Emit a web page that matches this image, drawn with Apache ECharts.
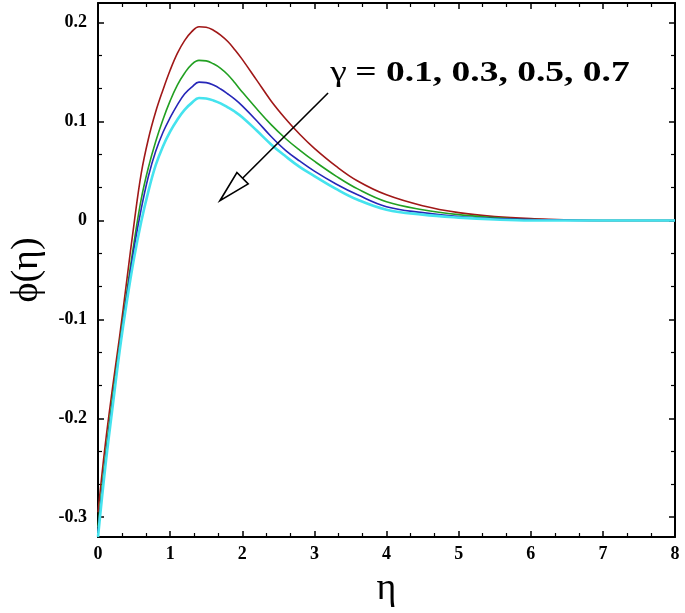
<!DOCTYPE html>
<html>
<head>
<meta charset="utf-8">
<script src="https://cdn.jsdelivr.net/npm/echarts@6/dist/echarts.min.js"></script>
<style>
html,body{margin:0;padding:0;background:#fff;}
#chart{width:685px;height:613px;}
</style>
</head>
<body>
<div id="chart"></div>
<script>
// ---- data ----
const eta = [0, 0.1, 0.2, 0.3, 0.4, 0.5, 0.6, 0.7, 0.8, 0.9, 1.0, 1.1, 1.2, 1.3, 1.4, 1.5, 1.6, 1.7, 1.8, 1.9, 2.0, 2.2, 2.4, 2.6, 2.8, 3.0, 3.3, 3.6, 4.0, 4.5, 5.0, 5.5, 6.0, 7.0, 8.0];
const phiGamma01 = [-0.295, -0.227, -0.170, -0.117, -0.060, -0.003, 0.048, 0.083, 0.110, 0.132, 0.152, 0.169, 0.182, 0.191, 0.196, 0.1955, 0.1925, 0.1875, 0.181, 0.1725, 0.163, 0.142, 0.121, 0.103, 0.087, 0.073, 0.055, 0.040, 0.026, 0.015, 0.008, 0.004, 0.002, 0.0, 0.0];
const phiGamma03 = [-0.310, -0.240, -0.180, -0.125, -0.072, -0.022, 0.022, 0.054, 0.080, 0.102, 0.121, 0.137, 0.149, 0.158, 0.162, 0.1615, 0.1585, 0.154, 0.1475, 0.139, 0.130, 0.113, 0.097, 0.083, 0.071, 0.060, 0.045, 0.032, 0.019, 0.011, 0.006, 0.003, 0.001, 0.0, 0.0];
const phiGamma05 = [-0.315, -0.245, -0.185, -0.128, -0.076, -0.028, 0.012, 0.045, 0.070, 0.089, 0.104, 0.117, 0.128, 0.135, 0.140, 0.1395, 0.137, 0.133, 0.128, 0.1225, 0.116, 0.101, 0.085, 0.071, 0.060, 0.050, 0.037, 0.026, 0.014, 0.008, 0.004, 0.002, 0.001, 0.0, 0.0];
const phiGamma07 = [-0.320, -0.250, -0.190, -0.132, -0.082, -0.038, -0.001, 0.030, 0.056, 0.075, 0.090, 0.102, 0.112, 0.119, 0.124, 0.1235, 0.1215, 0.1185, 0.1145, 0.110, 0.1045, 0.091, 0.077, 0.065, 0.054, 0.045, 0.032, 0.021, 0.011, 0.006, 0.003, 0.001, 0.0, 0.0, 0.0];
const seriesNames = ['γ = 0.1', 'γ = 0.3', 'γ = 0.5', 'γ = 0.7'];
const xTickValues = [0, 1, 2, 3, 4, 5, 6, 7, 8];
const yTickValues = [-0.3, -0.2, -0.1, 0, 0.1, 0.2];
const annotationText = ['γ', '= 0.1, 0.3, 0.5, 0.7'];
// annotation anchor and arrow in data coordinates
const annotationAt = [3.22, 0.149];
const arrowFrom = [3.19, 0.129];
const arrowTo = [1.69, 0.020];

const colors = ['#a01818', '#22a022', '#2626b8', '#45e3ee'];
const widths = [1.6, 1.6, 1.6, 2.6];
const allSeries = [phiGamma01, phiGamma03, phiGamma05, phiGamma07];

const chart = echarts.init(document.getElementById('chart'), null, {renderer: 'canvas'});
const serif = 'Liberation Serif';

function fmtY(v) {
  for (const t of yTickValues) { if (Math.abs(v - t) < 1e-6) return t === 0 ? '0' : String(t); }
  return '';
}
function fmtX(v) {
  for (const t of xTickValues) { if (Math.abs(v - t) < 1e-6) return String(t); }
  return '';
}

const axisLineStyle = {color: '#000', width: 2};
const tickStyle = {inside: true, length: 6, lineStyle: {color: '#000', width: 1.5}};
const minorStyle = {show: true, splitNumber: 3, length: 4, lineStyle: {color: '#000', width: 1.2}};
const labelStyle = {fontFamily: serif, fontWeight: 'bold', fontSize: 18, color: '#000'};

const option = {
  animation: false,
  backgroundColor: '#fff',
  grid: {left: 93, top: 3, right: 10, bottom: 76, containLabel: false},
  xAxis: [
    {type: 'value', min: 0, max: 8, interval: 1, position: 'bottom',
     axisLine: {onZero: false, lineStyle: axisLineStyle}, axisTick: tickStyle, minorTick: minorStyle,
     splitLine: {show: false}, minorSplitLine: {show: false},
     axisLabel: Object.assign({margin: 8, formatter: fmtX}, labelStyle),
     name: 'η', nameLocation: 'middle', nameGap: 33,
     nameTextStyle: {fontFamily: serif, fontSize: 38, color: '#000'}},
    {type: 'value', min: 0, max: 8, interval: 1, position: 'top',
     axisLine: {onZero: false, lineStyle: axisLineStyle}, axisTick: tickStyle, minorTick: minorStyle,
     splitLine: {show: false}, axisLabel: {show: false}}
  ],
  yAxis: [
    {type: 'value', min: -0.32, max: 0.22, splitNumber: 5, position: 'left',
     axisLine: {onZero: false, lineStyle: axisLineStyle}, axisTick: tickStyle, minorTick: minorStyle,
     splitLine: {show: false}, minorSplitLine: {show: false},
     axisLabel: Object.assign({margin: 11, formatter: fmtY}, labelStyle),
     name: 'ϕ(η)', nameLocation: 'middle', nameGap: 52, nameRotate: 90,
     nameTextStyle: {fontFamily: serif, fontSize: 38, color: '#000'}},
    {type: 'value', min: -0.32, max: 0.22, splitNumber: 5, position: 'right',
     axisLine: {onZero: false, lineStyle: axisLineStyle}, axisTick: tickStyle, minorTick: minorStyle,
     splitLine: {show: false}, axisLabel: {show: false}}
  ],
  series: allSeries.map((vals, i) => ({
    name: seriesNames[i],
    type: 'line',
    xAxisIndex: 0, yAxisIndex: 0,
    data: eta.map((x, k) => [x, vals[k]]),
    smooth: 0.4,
    showSymbol: false,
    symbol: 'none',
    lineStyle: {color: colors[i], width: widths[i]},
    itemStyle: {color: colors[i]},
    z: 2 + i
  }))
};
chart.setOption(option);

// annotation arrow and label, placed through the chart's own axes
const toPx = (p) => chart.convertToPixel({xAxisIndex: 0, yAxisIndex: 0}, p);
const S = toPx(arrowFrom), T = toPx(arrowTo), A = toPx(annotationAt);
const dx = T[0] - S[0], dy = T[1] - S[1];
const len = Math.hypot(dx, dy);
const ux = dx / len, uy = dy / len;
const headLen = 32, headHalf = 8;
const B = [T[0] - ux * headLen, T[1] - uy * headLen];
const nx = -uy, ny = ux;
chart.setOption({
  graphic: [
    {type: 'line', shape: {x1: S[0], y1: S[1], x2: B[0], y2: B[1]},
     style: {stroke: '#000', lineWidth: 1.6}, z: 100},
    {type: 'polygon', shape: {points: [T, [B[0] + nx * headHalf, B[1] + ny * headHalf], [B[0] - nx * headHalf, B[1] - ny * headHalf]]},
     style: {fill: '#fff', stroke: '#000', lineWidth: 1.6}, z: 100},
    {type: 'text', x: A[0], y: A[1], scaleX: 1.25, z: 100,
     style: {text: '{g|' + annotationText[0] + '}  {b|' + annotationText[1] + '}',
       verticalAlign: 'middle', align: 'left',
       rich: {
         g: {fontFamily: serif, fontSize: 30, fill: '#000'},
         b: {fontFamily: serif, fontSize: 30, fontWeight: 'bold', fill: '#000'}
       }}}
  ]
});
</script>
</body>
</html>
